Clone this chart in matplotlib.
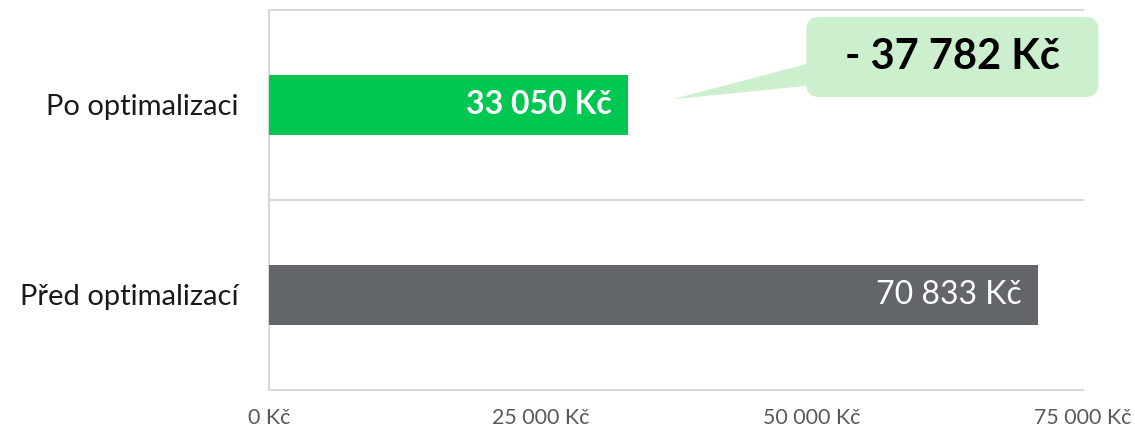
import matplotlib
matplotlib.use("Agg")
import matplotlib.pyplot as plt
from matplotlib.patches import FancyBboxPatch, Polygon
from matplotlib.ticker import FuncFormatter

categories = ["Před optimalizací", "Po optimalizaci"]
values = [70833, 33050]
savings = 37782
xticks = [0, 25000, 50000, 75000]

BAR_COLORS = ["#636669", "#00c752"]
GRID = "#d9d9d9"

plt.rcParams['font.family'] = ['Lato', 'DejaVu Sans']


def czk(v):
    return "{:,.0f} Kč".format(v).replace(",", " ")


fig = plt.figure(figsize=(11.35, 4.33), dpi=100)
ax = fig.add_axes([269 / 1135, 43 / 433, 814 / 1135, 380 / 433])

ypos = list(range(len(categories)))
ax.barh(ypos, values, height=60 / 190, color=BAR_COLORS, zorder=3)

ax.set_xlim(0, 75000)
ax.set_ylim(-0.5, 1.5)

# category separators
for y in [0.5, 1.5]:
    ax.axhline(y, color=GRID, lw=1.5, zorder=1, clip_on=False)

for s in ["top", "right"]:
    ax.spines[s].set_visible(False)
for s in ["left", "bottom"]:
    ax.spines[s].set_color(GRID)
    ax.spines[s].set_linewidth(1.5)

ax.set_xticks(xticks)
ax.xaxis.set_major_formatter(FuncFormatter(lambda v, p: czk(v)))
ax.tick_params(axis="x", length=0, pad=13, labelsize=15.4, labelcolor="#595959")
ax.set_yticks(ypos)
ax.set_yticklabels(categories)
ax.tick_params(axis="y", length=0, pad=22, labelsize=21, labelcolor="#1a1a1a")

# value labels inside the bars
ax.text(values[1] - 1500, 1, czk(values[1]), ha="right", va="center",
        color="white", fontsize=23, fontweight="bold", zorder=4)
ax.text(values[0] - 1500, 0, czk(values[0]), ha="right", va="center",
        color="white", fontsize=23, zorder=4)

# callout with the saving
fill = "#ccf0cd"
tip = ax.transAxes.inverted().transform(ax.transData.transform((values[1] + 4100, 1.03)))
tail = Polygon([tip, (0.668, 0.862), (0.668, 0.802)], closed=True,
               transform=ax.transAxes, facecolor=fill, edgecolor="none",
               clip_on=False, zorder=5)
ax.add_patch(tail)
box = FancyBboxPatch((0.660, 0.771), 0.359, 0.211,
                     boxstyle="round,pad=0,rounding_size=0.016",
                     transform=ax.transAxes, facecolor=fill, edgecolor="none",
                     clip_on=False, zorder=5, mutation_aspect=814 / 380)
ax.add_patch(box)
ax.text(0.8395, 0.876, "- " + czk(savings), transform=ax.transAxes,
        ha="center", va="center", fontsize=30, fontweight="bold",
        color="black", zorder=6)

fig.savefig("out.png", dpi=100)
